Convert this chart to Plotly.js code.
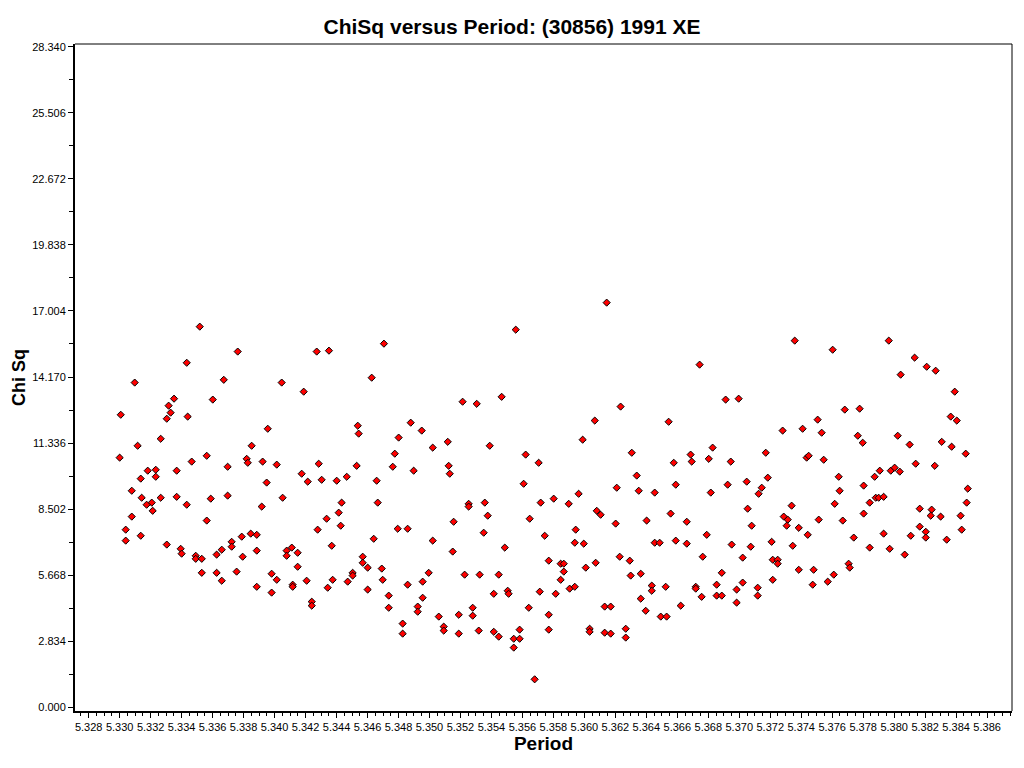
<!DOCTYPE html>
<html>
<head>
<meta charset="utf-8">
<script src="https://cdn.plot.ly/plotly-3.0.1.min.js"></script>
<style>html,body{margin:0;padding:0;background:#fff;}#chart{width:1024px;height:768px;}</style>
</head>
<body>
<div id="chart"></div>
<script>
const period = [
5.33517,5.33762,5.34272,5.34351,5.33433,5.33097,5.33672,5.34046,5.34188,5.33351,
5.33601,5.33316,5.33329,5.33007,5.33304,5.33439,5.33956,5.33265,5.33116,5.33852,
5.33000,5.33562,5.33820,5.33827,5.33923,5.34014,5.34285,5.33465,5.33697,5.33181,
5.33233,5.33368,5.33233,5.33136,5.34175,5.34214,5.34304,5.33949,5.33078,5.33142,
5.33207,5.33174,5.33265,5.33368,5.33433,5.33213,5.33588,5.33697,5.34052,5.33917,
5.33078,5.33562,5.34336,5.33039,5.33136,5.33039,5.34278,5.33304,5.33394,5.33400,
5.33491,5.33491,5.33530,5.33626,5.33659,5.33723,5.33723,5.33788,5.33846,5.33885,
5.33794,5.33885,5.34078,5.34111,5.34078,5.34149,5.34149,5.33530,5.33626,5.33659,
5.33755,5.33981,5.34014,5.33885,5.33981,5.34117,5.34117,5.34207,5.34343,5.34240,
5.34240,5.34369,5.34706,5.35557,5.34627,5.35214,5.35305,5.35466,5.34537,5.34543,
5.34879,5.34950,5.34801,5.35118,5.35021,5.35389,5.34776,5.35621,5.35705,5.34530,
5.34763,5.35124,5.35131,5.34898,5.34401,5.34466,5.34659,5.35608,5.34433,5.34666,
5.34414,5.34427,5.35253,5.35253,5.35357,5.35718,5.35376,5.35156,5.35647,5.34795,
5.34859,5.34640,5.35021,5.35350,5.35744,5.35150,5.35486,5.34569,5.34569,5.34601,
5.34692,5.34504,5.34504,5.35770,5.34995,5.35227,5.35324,5.35447,5.34375,5.34472,
5.34698,5.34956,5.34859,5.34601,5.35415,5.35505,5.35511,5.35712,5.34737,5.34956,
5.34737,5.34924,5.34924,5.35279,5.35641,5.35770,5.35060,5.35189,5.35279,5.34827,
5.34827,5.35092,5.35092,5.35189,5.35318,5.35415,5.35447,5.35582,5.35544,5.35582,
5.35770,5.35544,5.35679,5.36144,5.36744,5.36912,5.36996,5.36234,5.36067,5.36544,
5.35989,5.36306,5.36828,5.36686,5.36693,5.36803,5.36577,5.36945,5.37171,5.36338,
5.36590,5.36925,5.37048,5.37184,5.37145,5.36209,5.36351,5.37125,5.36454,5.36816,
5.35963,5.35802,5.35899,5.36080,5.36105,5.36202,5.36402,5.36557,5.36661,5.37054,
5.37080,5.35944,5.35938,5.35996,5.36454,5.36486,5.36590,5.36661,5.36790,5.36951,
5.37074,5.35847,5.35867,5.35867,5.35847,5.36009,5.36073,5.36228,5.36293,5.36299,
5.36364,5.36764,5.37022,5.36887,5.35815,5.35905,5.35938,5.36435,5.36435,5.36525,
5.36719,5.36719,5.36757,5.36854,5.36854,5.36887,5.37022,5.36983,5.37119,5.37119,
5.36983,5.36364,5.36131,5.36170,5.36396,5.36493,5.36531,5.36622,5.36034,5.36034,
5.36131,5.36170,5.36267,5.36267,5.37358,5.37603,5.37965,5.38132,5.38210,5.38268,
5.38042,5.38391,5.37681,5.37777,5.38365,5.38404,5.37506,5.37280,5.37409,5.37532,
5.37765,5.37797,5.38023,5.38100,5.38307,5.38371,5.38462,5.37435,5.37448,5.37545,
5.38139,5.38262,5.37642,5.37874,5.37907,5.37978,5.38003,5.38036,5.37803,5.37648,
5.38475,5.37338,5.37616,5.37842,5.37881,5.37900,5.37932,5.38468,5.37287,5.37313,
5.37306,5.37384,5.37513,5.37668,5.37803,5.38165,5.38242,5.38236,5.38300,5.38429,
5.38436,5.37442,5.37739,5.37932,5.38107,5.38165,5.38204,5.38204,5.38339,5.37209,
5.37345,5.37842,5.37971,5.38068,5.37216,5.37248,5.37248,5.37384,5.37480,5.37706,
5.37713,5.37610,5.37216,5.37474,5.37571
];
const chiSq = [
16.33,15.26,15.26,15.30,14.78,13.93,14.05,13.93,13.54,13.24,
13.20,12.94,12.64,12.55,12.38,12.47,11.95,11.52,11.22,11.22,
10.71,10.79,10.66,10.49,10.54,10.41,10.45,10.54,10.32,10.15,
10.19,10.15,9.89,9.81,10.02,9.68,9.76,9.64,9.29,8.99,
8.78,8.69,8.99,9.03,8.69,8.43,8.95,9.08,8.99,8.61,
8.18,8.01,8.09,7.62,7.36,7.15,7.62,6.98,6.80,6.59,
6.50,6.37,6.37,6.55,6.76,7.10,6.89,7.32,7.45,7.40,
6.46,6.72,6.72,6.85,6.50,6.63,6.03,5.77,5.77,5.43,
5.82,5.73,5.47,5.17,4.92,5.26,5.17,5.43,5.13,4.53,
4.36,6.93,15.60,16.20,14.14,13.11,13.02,13.32,12.08,11.74,
12.21,11.87,11.57,11.39,11.14,11.22,10.88,10.84,10.49,10.36,
10.32,10.36,10.02,10.15,9.72,9.89,9.72,9.59,8.78,8.78,
8.35,7.79,8.73,8.61,8.78,8.78,8.22,7.96,8.09,7.66,
7.66,7.23,7.15,7.49,7.36,6.68,6.85,6.46,6.20,5.99,
5.95,5.77,5.65,6.29,5.77,5.69,5.69,5.69,5.47,5.39,
5.47,5.39,5.26,5.05,4.87,5.00,4.87,4.96,4.79,4.70,
4.27,4.32,4.10,4.27,4.27,3.97,3.89,3.97,3.93,3.59,
3.16,3.46,3.29,3.16,3.29,3.24,3.03,3.33,2.94,2.94,
3.33,2.56,1.20,17.36,14.70,13.20,13.24,12.90,12.30,12.25,
11.48,10.92,11.14,10.84,10.54,10.66,10.49,10.54,10.92,9.94,
9.55,9.55,9.68,9.85,9.42,9.42,9.29,9.16,9.21,9.21,
9.16,8.95,8.73,8.43,8.26,7.88,8.01,8.31,7.96,8.52,
7.79,7.62,7.06,7.02,7.06,7.06,7.15,7.02,7.40,6.98,
6.89,6.16,6.16,5.82,5.47,5.99,6.20,6.46,6.29,5.65,
5.73,6.46,6.42,5.77,4.87,5.09,5.17,5.22,5.00,5.17,
5.17,5.09,4.74,5.26,4.79,4.79,5.35,5.05,5.13,4.79,
4.49,4.66,4.32,4.32,4.14,3.89,3.89,4.36,3.37,3.24,
3.20,3.16,3.37,2.99,15.73,15.34,15.73,15.00,14.61,14.44,
14.27,13.54,12.77,12.81,12.47,12.30,12.34,11.87,11.95,11.78,
11.65,11.35,11.65,11.27,11.39,11.18,10.88,10.71,10.79,10.62,
10.45,10.36,9.89,9.89,10.15,10.15,10.28,10.11,9.51,9.29,
9.38,8.65,8.73,8.78,8.99,8.99,9.03,8.78,8.18,8.05,
7.79,7.70,8.05,8.01,8.31,8.52,8.48,8.22,8.18,8.22,
7.62,7.40,7.28,7.45,7.36,7.75,7.53,7.28,7.19,7.10,
6.93,6.85,6.80,6.55,6.33,6.33,6.16,5.90,5.90,6.16,
5.99,5.69,5.47,5.26,5.39
];
const yTickVals = [0, 2.834, 5.668, 8.502, 11.336, 14.170, 17.004, 19.838, 22.672, 25.506, 28.340];
const chartTitle = "ChiSq versus Period: (30856) 1991 XE";
const xTitle = "Period";
const yTitle = "Chi Sq";

const FONT = "Arial, 'Liberation Sans', Helvetica, sans-serif";

const trace = {
  x: period, y: chiSq, type: "scatter", mode: "markers",
  marker: {symbol: "diamond", size: 5.5, color: "#ff0000", line: {color: "#000000", width: 1}},
  hoverinfo: "x+y"
};

const layout = {
  width: 1024, height: 768,
  paper_bgcolor: "#ffffff", plot_bgcolor: "#ffffff",
  margin: {l: 75, r: 12, t: 44, b: 57, pad: 0},
  showlegend: false,
  font: {family: FONT, color: "#000000", size: 11},
  title: {text: "<b>" + chartTitle + "</b>", x: 0.5, xref: "container", xanchor: "center",
          y: 1 - 27/768, yref: "container", yanchor: "middle",
          font: {family: FONT, size: 21, color: "#000000"}},
  xaxis: {
    range: [5.327116, 5.387607], autorange: false,
    tick0: 5.328, dtick: 0.002, tickformat: ".3f",
    ticks: "outside", ticklen: 5, tickwidth: 1, tickcolor: "#000",
    minor: {dtick: 0.0005, ticks: "outside", ticklen: 3, tickwidth: 1, tickcolor: "#000", showgrid: false},
    showgrid: false, zeroline: false,
    showline: true, linecolor: "#000000", linewidth: 2,
    tickfont: {family: FONT, size: 11, color: "#000"},
    title: {text: "<b>" + xTitle + "</b>", font: {family: FONT, size: 19, color: "#000"}, standoff: 3}
  },
  yaxis: {
    range: [-0.159, 28.456], autorange: false,
    tickmode: "array", tickvals: yTickVals, ticktext: yTickVals.map(v => v.toFixed(3)),
    ticks: "outside", ticklen: 5, tickwidth: 1, tickcolor: "#000",
    minor: {tickmode: "linear", tick0: 1.417, dtick: 2.834, ticks: "outside", ticklen: 4, tickwidth: 1, tickcolor: "#000", showgrid: false},
    showgrid: false, zeroline: false,
    showline: true, linecolor: "#000000", linewidth: 2,
    tickfont: {family: FONT, size: 11, color: "#000"},
    title: {text: "<b>" + yTitle + "</b>", font: {family: FONT, size: 18, color: "#000"}, standoff: 2}
  },
  shapes: [
    {type: "line", xref: "paper", yref: "paper", x0: 0, x1: 1, y0: 1, y1: 1, line: {color: "#000", width: 1}},
    {type: "line", xref: "paper", yref: "paper", x0: 1, x1: 1, y0: 0, y1: 1, line: {color: "#000", width: 1}}
  ]
};

Plotly.newPlot("chart", [trace], layout, {displayModeBar: false, staticPlot: true});
</script>
</body>
</html>
